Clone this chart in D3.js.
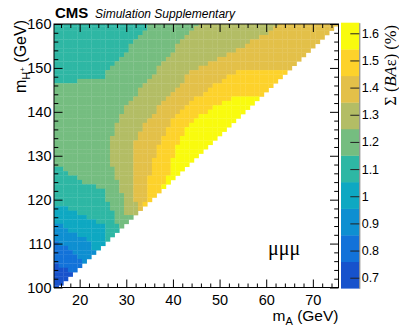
<!DOCTYPE html>
<html>
<head>
<meta charset="utf-8">
<script src="https://cdn.jsdelivr.net/npm/d3@7"></script>
<style>
body { margin: 0; background: #fff; }
svg text { font-family: "Liberation Sans", Arial, Helvetica, sans-serif; fill: #000; }
</style>
</head>
<body>
<div id="viz"></div>
<script>
// m_H+ of each row (GeV), last m_A that is filled in the row, and the runs
// [first m_A, Sigma(BAe) in %], from top row to bottom row
var mHplus = [160,159,158,157,156,155,154,153,152,151,150,149,148,147,146,145,144,143,142,141,
  140,139,138,137,136,135,134,133,132,131,130,129,128,127,126,125,124,123,122,121,
  120,119,118,117,116,115,114,113,112,111,110,109,108,107,106,105,104,103,102,101,100];
var mAlast = [75,74,73,72,71,70,69,68,67,66,65,64,63,62,61,60,59,58,57,56,
  55,54,53,52,51,50,49,48,47,46,45,44,43,42,41,40,39,38,37,36,
  35,34,33,32,31,30,29,28,27,26,25,24,23,22,21,20,19,18,17,16,15];
var runs = [
  [[15,1.10],[35,1.20],[46,1.30],[63,1.40]],
  [[15,1.10],[35,1.20],[45,1.30],[62,1.40]],
  [[15,1.10],[34,1.20],[44,1.30],[61,1.40]],
  [[15,1.10],[33,1.20],[43,1.30],[59,1.40]],
  [[15,1.10],[32,1.20],[42,1.30],[57,1.40]],
  [[15,1.10],[31,1.20],[41,1.30],[56,1.40]],
  [[15,1.10],[31,1.20],[41,1.30],[54,1.40]],
  [[15,1.10],[30,1.20],[40,1.30],[52,1.40]],
  [[15,1.10],[29,1.20],[39,1.30],[50,1.40]],
  [[15,1.10],[28,1.20],[38,1.30],[48,1.40]],
  [[15,1.10],[27,1.20],[37,1.30],[46,1.40]],
  [[15,1.10],[26,1.20],[37,1.30],[44,1.40],[54,1.49]],
  [[15,1.10],[26,1.20],[36,1.30],[43,1.40],[52,1.49]],
  [[15,1.10],[20,1.20],[35,1.30],[43,1.40],[51,1.49]],
  [[15,1.20],[34,1.30],[42,1.40],[49,1.49]],
  [[15,1.20],[33,1.30],[41,1.40],[48,1.49]],
  [[15,1.20],[33,1.30],[40,1.40],[47,1.49]],
  [[15,1.20],[32,1.30],[39,1.40],[45,1.49],[53,1.59]],
  [[15,1.20],[31,1.30],[38,1.40],[44,1.49],[51,1.59]],
  [[15,1.20],[30,1.30],[37,1.40],[43,1.49],[49,1.59]],
  [[15,1.20],[30,1.30],[37,1.40],[42,1.49],[48,1.59]],
  [[15,1.20],[29,1.30],[36,1.40],[41,1.49],[46,1.59]],
  [[15,1.20],[29,1.30],[35,1.40],[40,1.49],[45,1.59]],
  [[15,1.20],[28,1.30],[34,1.40],[40,1.49],[44,1.59]],
  [[15,1.20],[28,1.30],[34,1.40],[39,1.49],[43,1.59]],
  [[15,1.20],[28,1.30],[33,1.40],[39,1.49],[43,1.59]],
  [[15,1.20],[27,1.30],[33,1.40],[38,1.49],[42,1.59]],
  [[15,1.20],[27,1.30],[32,1.40],[38,1.49],[42,1.59]],
  [[15,1.20],[27,1.30],[32,1.40],[37,1.49],[41,1.59]],
  [[15,1.20],[27,1.30],[32,1.40],[37,1.49],[41,1.59]],
  [[15,1.20],[27,1.30],[32,1.40],[37,1.49],[41,1.59]],
  [[15,1.20],[27,1.30],[32,1.40],[36,1.49],[40,1.59]],
  [[15,1.20],[27,1.30],[32,1.40],[36,1.49],[40,1.59]],
  [[15,1.10],[17,1.20],[28,1.30],[32,1.40],[36,1.49],[40,1.59]],
  [[15,1.10],[18,1.20],[28,1.30],[32,1.40],[36,1.49],[40,1.59]],
  [[15,1.10],[20,1.20],[28,1.30],[32,1.40],[35,1.49],[39,1.59]],
  [[15,1.10],[21,1.20],[29,1.30],[32,1.40],[35,1.49],[39,1.59]],
  [[15,1.10],[24,1.20],[29,1.30],[32,1.40],[35,1.49],[38,1.59]],
  [[15,1.10],[26,1.20],[29,1.30],[32,1.40],[35,1.49]],
  [[15,1.10],[26,1.20],[30,1.30],[32,1.40],[35,1.49]],
  [[15,1.10],[26,1.20],[30,1.30],[32,1.40],[35,1.49]],
  [[15,1.10],[27,1.20],[30,1.30],[33,1.40],[34,1.49]],
  [[15,1.00],[18,1.10],[27,1.20],[30,1.30],[33,1.40]],
  [[15,1.00],[20,1.10],[28,1.20],[30,1.30]],
  [[15,1.00],[22,1.10],[28,1.20]],
  [[15,1.00],[24,1.10],[28,1.20]],
  [[15,0.91],[17,1.00],[26,1.10],[29,1.20]],
  [[15,0.91],[18,1.00],[26,1.10]],
  [[15,0.91],[20,1.00],[26,1.10]],
  [[15,0.91],[22,1.00],[26,1.10]],
  [[15,0.81],[16,0.91],[23,1.00]],
  [[15,0.81],[18,0.91],[23,1.00]],
  [[15,0.81],[19,0.91]],
  [[15,0.81],[20,0.91]],
  [[15,0.81],[21,0.91]],
  [[15,0.71],[16,0.81]],
  [[15,0.71],[18,0.81]],
  [[15,0.71]],
  [[15,0.71]],
  [[15,0.71]],
  [[15,0.71]]
];

var xTicks = [20, 30, 40, 50, 60, 70];
var yTicks = [100, 110, 120, 130, 140, 150, 160];
var zTicks = [0.7, 0.8, 0.9, 1.0, 1.1, 1.2, 1.3, 1.4, 1.5, 1.6];
var zTickLabels = ["0.7", "0.8", "0.9", "1", "1.1", "1.2", "1.3", "1.4", "1.5", "1.6"];
var zRange = [0.661, 1.639];
var nBands = 10;

// ROOT kBird palette stops
var birdStops = [0, 0.125, 0.25, 0.375, 0.5, 0.625, 0.75, 0.875, 1];
var birdColors = ["#352a87", "#0f5cdd", "#1481d6", "#06a4ca", "#2eb7a4", "#87bf77", "#d1bb59", "#fec832", "#f9fb0e"];
var bird = d3.scaleLinear().domain(birdStops).range(birdColors);
var bandColors = d3.range(nBands).map(function(i) { return bird((i + 1) / nBands); });
var color = d3.scaleQuantize().domain(zRange).range(bandColors);

var svg = d3.select("#viz")
  .append("svg")
  .attr("width", 399)
  .attr("height", 328);

// frame edges (pixels)
var fL = 54, fR = 338.5, fT = 24, fB = 287.5;
var x = d3.scaleLinear().domain([14.5, 75.5]).range([fL, fR]);
var y = d3.scaleLinear().domain([100, 160]).range([fB, fT]);

// expand the runs into cells
var cells = [];
mHplus.forEach(function(mh, i) {
  var r = runs[i];
  r.forEach(function(run, j) {
    var last = j < r.length - 1 ? r[j + 1][0] - 1 : mAlast[i];
    for (var a = run[0]; a <= last; a++) cells.push({ mA: a, mH: mh, z: run[1] });
  });
});

svg.append("clipPath").attr("id", "frameclip")
  .append("rect")
  .attr("x", fL).attr("y", fT)
  .attr("width", fR - fL).attr("height", fB - fT);

svg.append("g")
  .attr("clip-path", "url(#frameclip)")
  .selectAll("rect").data(cells).enter()
  .append("rect")
  .attr("x", function(d) { return x(d.mA - 0.5); })
  .attr("y", function(d) { return y(d.mH + 0.5); })
  .attr("width", function(d) { return x(d.mA + 0.5) - x(d.mA - 0.5) + 0.3; })
  .attr("height", function(d) { return y(d.mH - 0.5) - y(d.mH + 0.5) + 0.3; })
  .style("fill", function(d) { return color(d.z); });

// axes, ticks pointing inward on all four sides
var xMinor = d3.range(16, 76, 2).filter(function(v) { return v % 10 != 0; });
var yMinor = d3.range(102, 160, 2).filter(function(v) { return v % 10 != 0; });

function styleAxis(g) {
  g.select(".domain").remove();
  g.selectAll("line").attr("stroke", "#000").attr("stroke-width", 1);
  g.selectAll("text").style("font-size", "14.5px").attr("fill", "#000");
}

svg.append("g").attr("transform", "translate(0," + fB + ")")
  .call(d3.axisBottom(x).tickValues(xTicks).tickSize(-8).tickPadding(7).tickFormat(d3.format("d")))
  .call(styleAxis);
svg.append("g").attr("transform", "translate(0," + fB + ")")
  .call(d3.axisBottom(x).tickValues(xMinor).tickSize(-4).tickFormat(""))
  .call(styleAxis);
svg.append("g").attr("transform", "translate(0," + fT + ")")
  .call(d3.axisTop(x).tickValues(xTicks).tickSize(-8).tickFormat(""))
  .call(styleAxis);
svg.append("g").attr("transform", "translate(0," + fT + ")")
  .call(d3.axisTop(x).tickValues(xMinor).tickSize(-4).tickFormat(""))
  .call(styleAxis);

svg.append("g").attr("transform", "translate(" + fL + ",0)")
  .call(d3.axisLeft(y).tickValues(yTicks).tickSize(-8.5).tickPadding(2.5).tickFormat(d3.format("d")))
  .call(styleAxis);
svg.append("g").attr("transform", "translate(" + fL + ",0)")
  .call(d3.axisLeft(y).tickValues(yMinor).tickSize(-4.3).tickFormat(""))
  .call(styleAxis);
svg.append("g").attr("transform", "translate(" + fR + ",0)")
  .call(d3.axisRight(y).tickValues(yTicks).tickSize(-8.5).tickFormat(""))
  .call(styleAxis);
svg.append("g").attr("transform", "translate(" + fR + ",0)")
  .call(d3.axisRight(y).tickValues(yMinor).tickSize(-4.3).tickFormat(""))
  .call(styleAxis);

svg.append("rect")
  .attr("x", fL).attr("y", fT)
  .attr("width", fR - fL).attr("height", fB - fT)
  .style("fill", "none").style("stroke", "#000").style("stroke-width", 1);

// colour bar
var zx0 = 341, zx1 = 359.3;
var zy = d3.scaleLinear().domain(zRange).range([288.3, 22.7]);
var step = (zRange[1] - zRange[0]) / nBands;
svg.append("g").selectAll("rect").data(bandColors).enter()
  .append("rect")
  .attr("x", zx0)
  .attr("width", zx1 - zx0)
  .attr("y", function(d, i) { return zy(zRange[0] + (i + 1) * step); })
  .attr("height", function(d, i) { return zy(zRange[0] + i * step) - zy(zRange[0] + (i + 1) * step) + 0.3; })
  .style("fill", function(d) { return d; });

var zAxis = svg.append("g").attr("transform", "translate(" + zx1 + ",0)")
  .call(d3.axisRight(zy).tickValues(zTicks).tickSize(-9).tickSizeOuter(0).tickPadding(2.4)
    .tickFormat(function(d, i) { return zTickLabels[i]; }));
zAxis.select(".domain").attr("stroke", "#777").attr("stroke-width", 1);
zAxis.selectAll("line").attr("stroke", "#222");
zAxis.selectAll("text").style("font-size", "12.5px").attr("fill", "#000");

// titles
svg.append("text").attr("x", 55).attr("y", 18)
  .style("font-size", "15px").style("font-weight", "bold").text("CMS");
svg.append("text").attr("x", 95).attr("y", 18)
  .style("font-size", "12px").style("font-style", "italic").text("Simulation Supplementary");

var xt = svg.append("text").attr("x", fR).attr("y", 320.5)
  .attr("text-anchor", "end").style("font-size", "15.5px");
xt.append("tspan").text("m");
xt.append("tspan").attr("dy", 4).style("font-size", "11px").text("A");
xt.append("tspan").attr("dy", -4).text(" (GeV)");

var yt = svg.append("text").attr("transform", "translate(26,20) rotate(-90)")
  .attr("text-anchor", "end").style("font-size", "16px");
yt.append("tspan").text("m");
yt.append("tspan").attr("dy", 4).style("font-size", "11px").text("H");
yt.append("tspan").attr("dy", -5).style("font-size", "8px").text("+");
yt.append("tspan").attr("dy", 1).text(" (GeV)");

var zt = svg.append("text").attr("transform", "translate(396,25) rotate(-90)")
  .attr("text-anchor", "end").style("font-size", "16.5px")
  .style("font-family", "'Liberation Serif', 'Times New Roman', serif");
zt.append("tspan").text("\u03A3 (");
zt.append("tspan").style("font-style", "italic").text("BA");
zt.append("tspan").text("\u03B5) (%)");

svg.append("text").attr("x", 268).attr("y", 255)
  .style("font-size", "20px")
  .style("font-family", "'Liberation Serif', 'Times New Roman', serif")
  .text("\u03BC\u03BC\u03BC");
</script>
</body>
</html>
